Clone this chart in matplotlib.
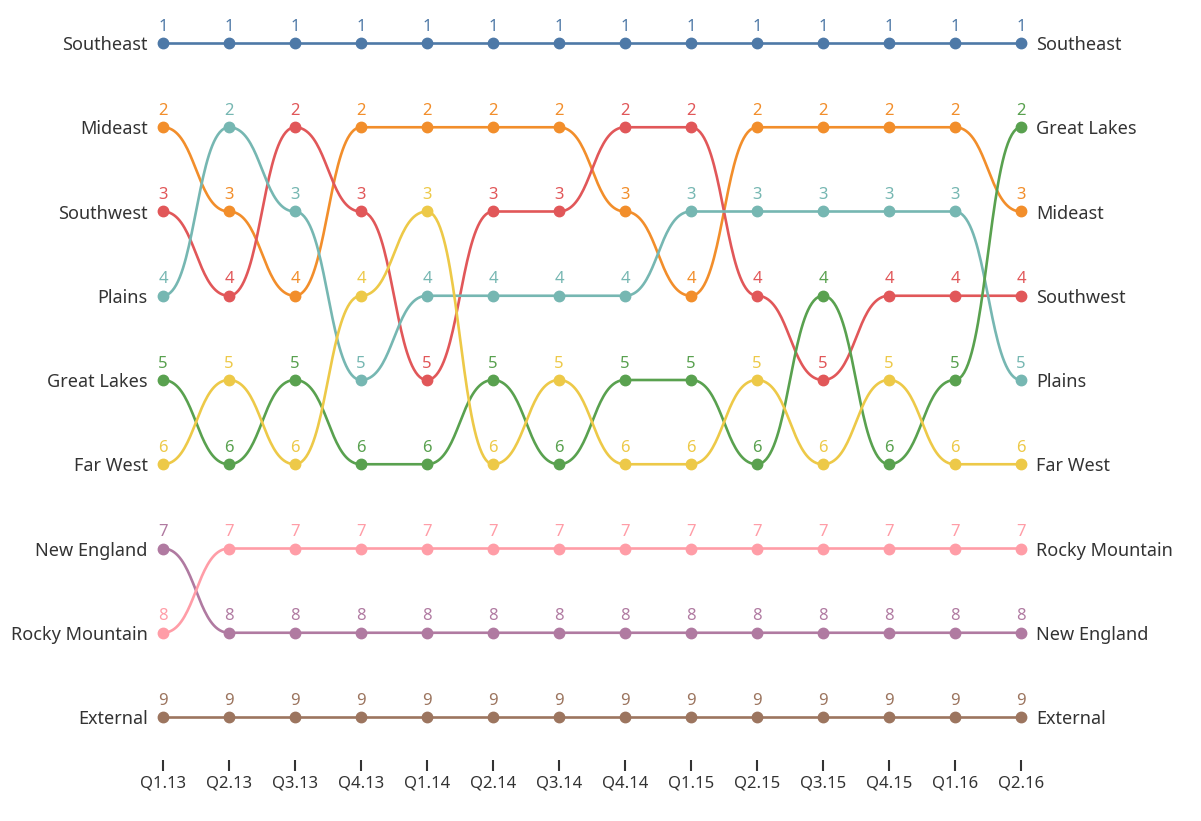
import numpy as np
import matplotlib
matplotlib.use("Agg")
from matplotlib import pyplot as plt

quarters = ['Q1.13', 'Q2.13', 'Q3.13', 'Q4.13', 'Q1.14', 'Q2.14', 'Q3.14',
            'Q4.14', 'Q1.15', 'Q2.15', 'Q3.15', 'Q4.15', 'Q1.16', 'Q2.16']

regions = ['Southeast', 'Mideast', 'Southwest', 'Plains', 'Great Lakes',
           'Far West', 'New England', 'Rocky Mountain', 'External']

southeast = [1, 1, 1, 1, 1, 1, 1, 1, 1, 1, 1, 1, 1, 1]
mideast = [2, 3, 4, 2, 2, 2, 2, 3, 4, 2, 2, 2, 2, 3]
southwest = [3, 4, 2, 3, 5, 3, 3, 2, 2, 4, 5, 4, 4, 4]
plains = [4, 2, 3, 5, 4, 4, 4, 4, 3, 3, 3, 3, 3, 5]
great_lakes = [5, 6, 5, 6, 6, 5, 6, 5, 5, 6, 4, 6, 5, 2]
far_west = [6, 5, 6, 4, 3, 6, 5, 6, 6, 5, 6, 5, 6, 6]
new_england = [7, 8, 8, 8, 8, 8, 8, 8, 8, 8, 8, 8, 8, 8]
rocky_mountain = [8, 7, 7, 7, 7, 7, 7, 7, 7, 7, 7, 7, 7, 7]
external = [9, 9, 9, 9, 9, 9, 9, 9, 9, 9, 9, 9, 9, 9]

ranks = [southeast, mideast, southwest, plains, great_lakes,
         far_west, new_england, rocky_mountain, external]
colors = ['#4e79a7', '#f28e2b', '#e15759', '#76b7b2', '#59a14f',
          '#edc948', '#b07aa1', '#ff9da7', '#9c755f']

plt.rcParams['font.family'] = ['Noto Sans', 'DejaVu Sans']
W, H = 1201, 821
fig = plt.figure(figsize=(W / 100, H / 100), dpi=100)
x0, x1, ytop, ybot = 163, 1021, 43, 717
ax = fig.add_axes([x0 / W, (H - ybot) / H, (x1 - x0) / W, (ybot - ytop) / H])
ax.set_xlim(0, len(quarters) - 1)
ax.set_ylim(9, 1)
for s in ax.spines.values():
    s.set_visible(False)
ax.set_yticks([])


def bump(xs, ys, n=40):
    px, py = [], []
    t = np.linspace(0, 1, n)
    for i in range(len(xs) - 1):
        xa, xb, ya, yb = xs[i], xs[i + 1], ys[i], ys[i + 1]
        xm = (xa + xb) / 2
        bx = (1 - t) ** 3 * xa + 3 * (1 - t) ** 2 * t * xm + 3 * (1 - t) * t ** 2 * xm + t ** 3 * xb
        by = (1 - t) ** 3 * ya + 3 * (1 - t) ** 2 * t * ya + 3 * (1 - t) * t ** 2 * yb + t ** 3 * yb
        px.extend(bx)
        py.extend(by)
    return px, py


xs = np.arange(len(quarters))
for name, r, c in zip(regions, ranks, colors):
    px, py = bump(xs, r)
    ax.plot(px, py, color=c, lw=1.9, clip_on=False, solid_capstyle='round')
    ax.plot(xs, r, 'o', color=c, ms=7.5, clip_on=False)
    for xi, yi in zip(xs, r):
        ax.annotate(str(yi), (xi, yi), xytext=(0, 6), textcoords='offset points',
                    ha='center', va='bottom', color=c, fontsize=12)
    ax.annotate(name, (0, r[0]), xytext=(-11, 0), textcoords='offset points',
                ha='right', va='center_baseline', color='#333333', fontsize=13)
    ax.annotate(name, (xs[-1], r[-1]), xytext=(11, 0), textcoords='offset points',
                ha='left', va='center_baseline', color='#333333', fontsize=13)

ax.set_xticks(xs)
ax.set_xticklabels(quarters)
ax.tick_params(axis='x', direction='out', length=8, width=1.5, color='#333333',
               pad=3, labelsize=12, labelcolor='#333333')
ax.spines['bottom'].set_position(('outward', 31))

plt.savefig("out.png", dpi=100)
